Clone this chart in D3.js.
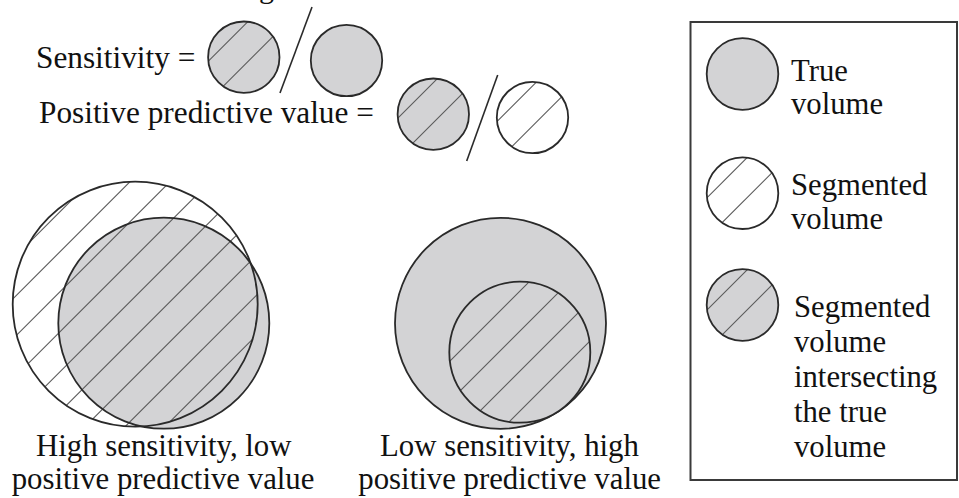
<!DOCTYPE html>
<html>
<head>
<meta charset="utf-8">
<script src="https://cdn.jsdelivr.net/npm/d3@7"></script>
<style>
  body { margin: 0; background: #fff; }
  text { font-family: "Liberation Serif", "Times New Roman", serif; fill: #111; }
</style>
</head>
<body>
<div id="container"></div>
<script>
// texts of the figure
const formulaLabels = ['Sensitivity =', 'Positive predictive value ='];
const legendLabels = [
    ['True', 'volume'],
    ['Segmented', 'volume'],
    ['Segmented', 'volume', 'intersecting', 'the true', 'volume']
];
const captionLabels = [
    ['High sensitivity, low', 'positive predictive value'],
    ['Low sensitivity, high', 'positive predictive value']
];
// kind of each circle: 'true' grey, 'seg' white hatched, 'both' grey hatched
const formulaKinds = [['both', 'true'], ['both', 'seg']];
const legendKinds = ['true', 'seg', 'both'];
const exampleKinds = [['seg', 'true'], ['true', 'both']];

const width = 959;
const height = 498;
const grey = '#d3d3d5';
const lineCol = '#2a2a2a';
const hatchCol = '#5a5a5a';
const period = 40;

let svg = d3.select('#container')
    .append('svg')
    .attr('width', width)
    .attr('height', height);
let defs = svg.append('defs');
let clipCount = 0;

// hatch lines (x + y = const) clipped to a circle
function hatch(g, c, phase) {
    let id = 'clip' + (clipCount++);
    defs.append('clipPath').attr('id', id)
        .append('circle').attr('cx', c.cx).attr('cy', c.cy).attr('r', c.r);
    let s = c.cx + c.cy;
    let offs = d3.range(-8, 9).map(k => phase + k * period)
        .filter(o => Math.abs(o) / Math.SQRT2 < c.r - 3);
    g.append('g').attr('clip-path', `url(#${id})`)
        .selectAll('line')
        .data(offs)
        .join('line')
        .attr('x1', o => s + o - (c.cy + c.r + 5)).attr('y1', c.cy + c.r + 5)
        .attr('x2', o => s + o - (c.cy - c.r - 5)).attr('y2', c.cy - c.r - 5)
        .attr('stroke', hatchCol)
        .attr('stroke-width', 1.1);
}

function fillOf(kind) { return kind === 'seg' ? '#fff' : grey; }

function outline(g, c) {
    g.append('circle').attr('cx', c.cx).attr('cy', c.cy).attr('r', c.r)
        .attr('fill', 'none').attr('stroke', lineCol).attr('stroke-width', 1.8);
}

// single symbol circle
function symbol(g, c, kind, phase) {
    g.append('circle').attr('cx', c.cx).attr('cy', c.cy).attr('r', c.r)
        .attr('fill', fillOf(kind));
    if (kind !== 'true') hatch(g, c, phase);
    outline(g, c);
}

// cropped line above the figure (only a descender is visible)
svg.append('text').attr('x', 259).attr('y', -2.5)
    .attr('font-size', 30).text('g');

// formulas
let formula = svg.append('g');
let fx = d3.scaleOrdinal().domain([0, 1]).range([[243.8, 346.5], [433.3, 532.5]]);
let fy = d3.scaleOrdinal().domain([0, 1]).range([[57.2, 60.5], [114.2, 117.5]]);
let slashes = [[312, 7, 280, 93], [497.7, 75, 466.7, 161]];
let textPos = [[36, 68], [39, 123]];
formulaLabels.forEach((label, i) => {
    formula.append('text')
        .attr('x', textPos[i][0]).attr('y', textPos[i][1])
        .attr('font-size', 31.3)
        .text(label);
    formulaKinds[i].forEach((kind, j) => {
        symbol(formula, { cx: fx(i)[j], cy: fy(i)[j], r: 35.7 }, kind, 8.5);
    });
    formula.append('line')
        .attr('x1', slashes[i][0]).attr('y1', slashes[i][1])
        .attr('x2', slashes[i][2]).attr('y2', slashes[i][3])
        .attr('stroke', lineCol).attr('stroke-width', 1.6);
});

// examples
let ex = svg.append('g');
// high sensitivity: big segmented circle behind the true volume
let segBig = { cx: 135.2, cy: 304.2, r: 122.5 };
let trueA = { cx: 163.8, cy: 323.2, r: 105.5 };
ex.append('circle').attr('cx', segBig.cx).attr('cy', segBig.cy).attr('r', segBig.r).attr('fill', '#fff');
ex.append('circle').attr('cx', trueA.cx).attr('cy', trueA.cy).attr('r', trueA.r).attr('fill', grey);
hatch(ex, segBig, -7.7);
outline(ex, segBig);
outline(ex, trueA);
// low sensitivity: small segmented circle inside the true volume
let trueB = { cx: 500.5, cy: 323.3, r: 105.5 };
let segSmall = { cx: 519.8, cy: 352.2, r: 70.5 };
symbol(ex, trueB, exampleKinds[1][0], 0);
symbol(ex, segSmall, exampleKinds[1][1], 19);

// captions
let capX = [[36, 11.7], [380, 358.3]];
captionLabels.forEach((lines, i) => {
    lines.forEach((t, j) => {
        ex.append('text')
            .attr('x', capX[i][j]).attr('y', 456 + j * 32.5)
            .attr('font-size', 30.8)
            .text(t);
    });
});

// legend
let legend = svg.append('g');
legend.append('rect')
    .attr('x', 690.5).attr('y', 22).attr('width', 266.5).attr('height', 458)
    .attr('fill', 'none').attr('stroke', '#3a3a3a').attr('stroke-width', 2);
let legendCy = [74, 193.2, 305];
let legendTextY = [80.7, 195, 316.7];
let legendPhase = [0, 9, 9.5];
legendKinds.forEach((kind, i) => {
    symbol(legend, { cx: 742.5, cy: legendCy[i], r: 35.8 }, kind, legendPhase[i]);
    legendLabels[i].forEach((t, j) => {
        legend.append('text')
            .attr('x', i === 2 ? 794 : 791)
            .attr('y', legendTextY[i] + j * (i === 2 ? 35 : 33.5))
            .attr('font-size', 30.7)
            .text(t);
    });
});
</script>
</body>
</html>
